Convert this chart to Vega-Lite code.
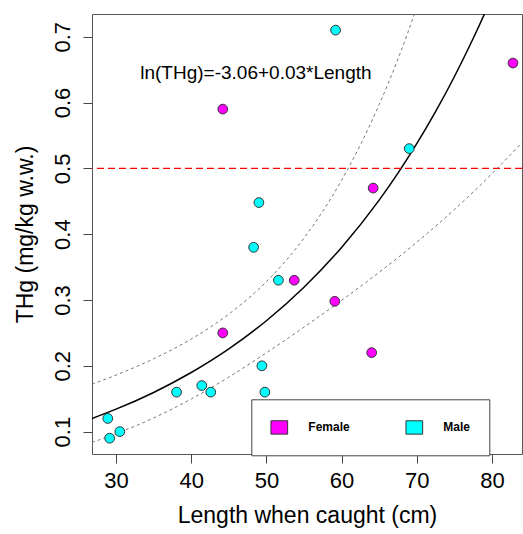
{
  "$schema": "https://vega.github.io/schema/vega-lite/v6.json",
  "width": 430,
  "height": 440,
  "autosize": {"type": "none"},
  "padding": {"left": 92, "top": 14, "right": 1, "bottom": 80},
  "config": {
    "font": "Liberation Sans",
    "view": {"stroke": "#555", "strokeWidth": 1},
    "axis": {
      "domain": false,
      "grid": false,
      "tickColor": "#444",
      "tickSize": 9,
      "labelFont": "Liberation Sans",
      "labelFontSize": 22,
      "labelColor": "#000",
      "titleFont": "Liberation Sans",
      "titleFontSize": 23,
      "titleFontWeight": "normal",
      "titleColor": "#000"
    },
    "legend": {
      "orient": "none",
      "legendX": 159.3,
      "legendY": 385.3,
      "direction": "horizontal",
      "padding": 19,
      "strokeColor": "#444",
      "fillColor": "white",
      "symbolType": "M-1,-0.8H1V0.8H-1Z",
      "symbolSize": 279,
      "symbolStrokeColor": "#333",
      "symbolStrokeWidth": 1,
      "symbolOpacity": 1,
      "labelFont": "Liberation Sans",
      "labelFontSize": 12,
      "labelFontWeight": "bold",
      "labelColor": "#000",
      "labelOffset": 20,
      "columnPadding": 53
    }
  },
  "datasets": {
    "fish": [
      {"Length": 44.2, "THg": 0.59, "Sex": "Female"},
      {"Length": 82.8, "THg": 0.66, "Sex": "Female"},
      {"Length": 64.2, "THg": 0.47, "Sex": "Female"},
      {"Length": 53.7, "THg": 0.33, "Sex": "Female"},
      {"Length": 44.2, "THg": 0.25, "Sex": "Female"},
      {"Length": 59.1, "THg": 0.298, "Sex": "Female"},
      {"Length": 64.0, "THg": 0.22, "Sex": "Female"},
      {"Length": 59.2, "THg": 0.71, "Sex": "Male"},
      {"Length": 69.0, "THg": 0.53, "Sex": "Male"},
      {"Length": 49.0, "THg": 0.448, "Sex": "Male"},
      {"Length": 48.3, "THg": 0.38, "Sex": "Male"},
      {"Length": 51.6, "THg": 0.33, "Sex": "Male"},
      {"Length": 49.4, "THg": 0.20, "Sex": "Male"},
      {"Length": 38.05, "THg": 0.16, "Sex": "Male"},
      {"Length": 41.4, "THg": 0.17, "Sex": "Male"},
      {"Length": 42.6, "THg": 0.16, "Sex": "Male"},
      {"Length": 49.8, "THg": 0.16, "Sex": "Male"},
      {"Length": 28.9, "THg": 0.12, "Sex": "Male"},
      {"Length": 30.5, "THg": 0.10, "Sex": "Male"},
      {"Length": 29.15, "THg": 0.09, "Sex": "Male"}
    ],
    "curves": [
      {"Length": 26.8, "fit": 0.1200, "upper": 0.1720, "lower": 0.0837},
      {"Length": 30, "fit": 0.1341, "upper": 0.1859, "lower": 0.0968},
      {"Length": 35, "fit": 0.1595, "upper": 0.2107, "lower": 0.1208},
      {"Length": 40, "fit": 0.1898, "upper": 0.2407, "lower": 0.1496},
      {"Length": 45, "fit": 0.2257, "upper": 0.2785, "lower": 0.1829},
      {"Length": 50, "fit": 0.2685, "upper": 0.3279, "lower": 0.2198},
      {"Length": 55, "fit": 0.3194, "upper": 0.3940, "lower": 0.2588},
      {"Length": 60, "fit": 0.3799, "upper": 0.4819, "lower": 0.2994},
      {"Length": 65, "fit": 0.4518, "upper": 0.5968, "lower": 0.3421},
      {"Length": 67.5, "fit": 0.4928, "upper": 0.6661, "lower": 0.3644},
      {"Length": 70, "fit": 0.5374, "upper": 0.7448, "lower": 0.3878},
      {"Length": 72.5, "fit": 0.5861, "upper": 0.8338, "lower": 0.4120},
      {"Length": 75, "fit": 0.6392, "upper": 0.9340, "lower": 0.4374},
      {"Length": 77.5, "fit": 0.6972, "lower": 0.4639},
      {"Length": 80, "fit": 0.7603, "lower": 0.4918},
      {"Length": 82.5, "fit": 0.8292, "lower": 0.5211},
      {"Length": 84, "fit": 0.8735, "lower": 0.5394}
    ],
    "notes": [
      {"label": "ln(THg)=-3.06+0.03*Length", "limit": 0.5, "x": 48.6, "y": 0.6357}
    ]
  },
  "layer": [
    {
      "data": {"name": "curves"},
      "mark": {"type": "line", "clip": true, "color": "#777", "strokeWidth": 1, "strokeDash": [3, 3], "interpolate": "monotone"},
      "encoding": {
        "x": {"field": "Length", "type": "quantitative"},
        "y": {"field": "upper", "type": "quantitative"}
      }
    },
    {
      "data": {"name": "curves"},
      "mark": {"type": "line", "clip": true, "color": "#777", "strokeWidth": 1, "strokeDash": [3, 3], "interpolate": "monotone"},
      "encoding": {
        "x": {"field": "Length", "type": "quantitative"},
        "y": {"field": "lower", "type": "quantitative"}
      }
    },
    {
      "data": {"name": "curves"},
      "mark": {"type": "line", "clip": true, "color": "#000", "strokeWidth": 1.5, "interpolate": "monotone"},
      "encoding": {
        "x": {"field": "Length", "type": "quantitative"},
        "y": {"field": "fit", "type": "quantitative"}
      }
    },
    {
      "data": {"name": "notes"},
      "mark": {"type": "rule", "color": "#FF0000", "strokeWidth": 1.3, "strokeDash": [7, 4]},
      "encoding": {"y": {"field": "limit", "type": "quantitative"}}
    },
    {
      "data": {"name": "fish"},
      "mark": {"type": "point", "filled": true, "shape": "circle", "size": 95, "stroke": "#333", "strokeWidth": 1, "opacity": 1, "clip": true},
      "encoding": {
        "x": {
          "field": "Length", "type": "quantitative",
          "scale": {"domain": [26.8, 84.0], "nice": false, "zero": false},
          "axis": {"values": [30, 40, 50, 60, 70, 80], "title": "Length when caught (cm)", "labelBaseline": "alphabetic", "labelPadding": 24.5, "titleBaseline": "alphabetic", "titlePadding": 31}
        },
        "y": {
          "field": "THg", "type": "quantitative",
          "scale": {"domain": [0.066, 0.7345], "nice": false, "zero": false},
          "axis": {"values": [0.1, 0.2, 0.3, 0.4, 0.5, 0.6, 0.7], "format": ".1f", "title": "THg (mg/kg w.w.)", "labelAngle": 270, "labelAlign": "center", "labelBaseline": "alphabetic", "labelPadding": 14, "titleBaseline": "alphabetic", "titlePadding": 19}
        },
        "color": {
          "field": "Sex", "type": "nominal",
          "scale": {"domain": ["Female", "Male"], "range": ["#FF00FF", "#00FFFF"]},
          "legend": {"title": null, "labelExpr": "datum.label == 'Male' ? 'Male\u00a0\u00a0\u00a0\u00a0\u00a0\u00a0\u00a0\u00a0\u00a0\u00a0\u00a0\u00a0\u00a0\u00a0\u00a0\u00a0\u00a0' : datum.label"}
        }
      }
    },
    {
      "data": {"name": "notes"},
      "mark": {"type": "text", "font": "Liberation Sans", "fontSize": 19, "align": "center", "baseline": "alphabetic", "color": "#000"},
      "encoding": {
        "text": {"field": "label"},
        "x": {"field": "x", "type": "quantitative"},
        "y": {"field": "y", "type": "quantitative"}
      }
    }
  ]
}
